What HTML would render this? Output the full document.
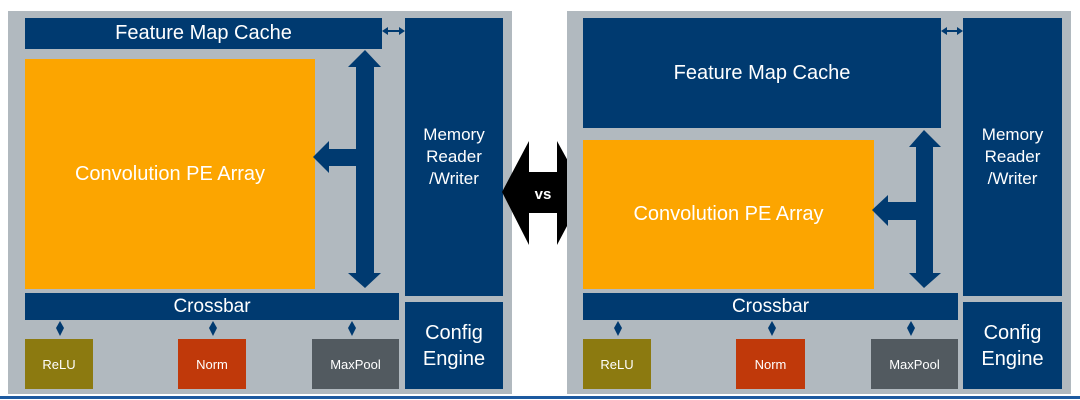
<!DOCTYPE html>
<html><head><meta charset="utf-8"><style>
body{margin:0;width:1080px;height:400px;background:#fff;position:relative;overflow:hidden;font-family:"Liberation Sans",sans-serif;}
div.b{position:absolute;display:flex;align-items:center;justify-content:center;text-align:center;color:#fff;}
.n{background:#003a70}
svg{position:absolute;left:0;top:0}
</style></head><body>
<div class="b" style="left:8px;top:11px;width:504px;height:383px;background:#b1b9bf"></div>
<div class="b n" style="left:25px;top:18px;width:357px;height:31px;font-size:20px">Feature Map Cache</div>
<div class="b" style="left:25px;top:59px;width:290px;height:230px;background:#fca500;font-size:20px">Convolution PE Array</div>
<div class="b n" style="left:405px;top:18px;width:98px;height:278px;font-size:17px;line-height:22px">Memory<br>Reader<br>/Writer</div>
<div class="b n" style="left:405px;top:302px;width:98px;height:87px;font-size:20px;line-height:26px">Config<br>Engine</div>
<div class="b n" style="left:25px;top:293px;width:374px;height:27px;font-size:19px">Crossbar</div>
<div class="b" style="left:25px;top:339px;width:68px;height:50px;background:#8c7a10;font-size:13px">ReLU</div>
<div class="b" style="left:178px;top:339px;width:68px;height:50px;background:#c0390a;font-size:13px">Norm</div>
<div class="b" style="left:312px;top:339px;width:87px;height:50px;background:#525a60;font-size:13px">MaxPool</div>

<svg width="1080" height="400">
<polygon points="502,192 529,141 529,172 557,172 557,141 585,192 557,245 557,213 529,213 529,245" fill="#000"/>
<g fill="#003a70">
<polygon points="365,50 381,67 374,67 374,273 381,273 365,288 348,273 356,273 356,67 348,67"/>
<polygon points="313,157 329,141 329,149 356,149 356,166 329,166 329,173"/>
<polygon points="382,31 388,27 388,30 399,30 399,27 405,31 399,35 399,32 388,32 388,35"/>
<polygon points="60,321 64,328 60,336 56,328"/><polygon points="213,321 217,328 213,336 209,328"/><polygon points="352,321 356,328 352,336 348,328"/>
</g>
</svg>
<div class="b" style="left:530px;top:182px;width:26px;height:24px;font-size:15px;font-weight:bold">vs</div>

<div class="b" style="left:567px;top:11px;width:504px;height:383px;background:#b1b9bf"></div>
<div class="b n" style="left:583px;top:18px;width:358px;height:110px;font-size:20px">Feature Map Cache</div>
<div class="b" style="left:583px;top:140px;width:291px;height:149px;background:#fca500;font-size:20px">Convolution PE Array</div>
<div class="b n" style="left:963px;top:18px;width:99px;height:278px;font-size:17px;line-height:22px">Memory<br>Reader<br>/Writer</div>
<div class="b n" style="left:963px;top:302px;width:99px;height:87px;font-size:20px;line-height:26px">Config<br>Engine</div>
<div class="b n" style="left:583px;top:293px;width:375px;height:27px;font-size:19px">Crossbar</div>
<div class="b" style="left:583px;top:339px;width:68px;height:50px;background:#8c7a10;font-size:13px">ReLU</div>
<div class="b" style="left:736px;top:339px;width:69px;height:50px;background:#c0390a;font-size:13px">Norm</div>
<div class="b" style="left:871px;top:339px;width:87px;height:50px;background:#525a60;font-size:13px">MaxPool</div>
<svg width="1080" height="400" style="pointer-events:none">
<g fill="#003a70">
<polygon points="924,130 941,147 933,147 933,273 941,273 924,288 909,273 916,273 916,147 909,147"/>
<polygon points="872,210 888,195 888,202 916,202 916,220 888,220 888,226"/>
<polygon points="941,31 947,27 947,30 957,30 957,27 963,31 957,35 957,32 947,32 947,35"/>
<polygon points="618,321 622,328 618,336 614,328"/><polygon points="772,321 776,328 772,336 768,328"/><polygon points="911,321 915,328 911,336 907,328"/>
</g>
<rect x="0" y="396" width="1080" height="3" fill="#1d5aa0"/>
</svg>
</body></html>
